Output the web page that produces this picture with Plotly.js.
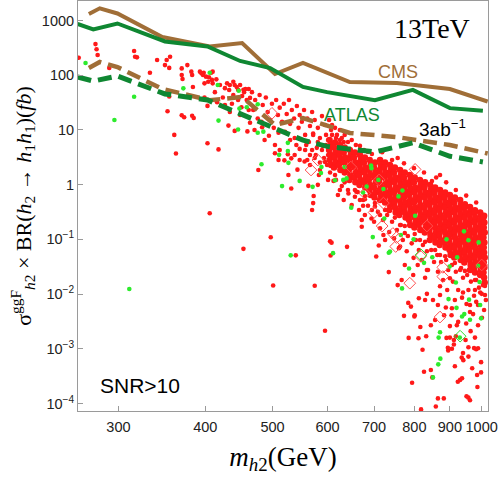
<!DOCTYPE html>
<html>
<head>
<meta charset="utf-8">
<script src="https://cdn.plot.ly/plotly-3.0.1.min.js"></script>
<style>html,body{margin:0;padding:0;background:#fff}</style>
</head>
<body>
<div id="plot" style="width:498px;height:486px"></div>
<script>
// limit curves: mass (GeV) and sigma x BR (fb)
const cmsMass = [272, 282, 299, 347, 406, 452, 504, 553, 646, 755, 900, 1020];
const cmsObs = [1315, 1671, 1343, 499, 335, 388, 105, 167, 75, 72, 56, 33];
const cmsProj = [135, 174, 141, 56, 35, 40, 12.3, 16.5, 8.8, 7.4, 5.3, 3.7];
const atlasMass = [262, 276, 299, 350, 403, 449, 496, 553, 599, 702, 796, 900, 1004];
const atlasObs = [863, 685, 881, 413, 335, 182, 135, 61, 49, 35, 54, 25, 22.5];
const atlasProj = [92.7, 78, 96.7, 45.4, 35.2, 19.5, 11.8, 6.5, 5.0, 3.95, 5.8, 3.3, 2.6];

// scan points [mass, sigma]
const redSparse = [
[263,208],[278,370],[279,298],[280,234],[291,136],[316,277],[317,217],[319,212],[333,111],[341,189],[350,153],[352,189],[356,217],[355,136],[370,133],[377,153],[371,85],[370,101],[382,116],[383,101],[384,61],[393,116],[395,108],[397,101],[398,111],[401,94],[404,76],[399,71],[405,92],[409,82],[408,111],[410,116],[415,84],[410,71],[420,66],[427,58],[430,71],[434,66],[439,76],[441,66],[444,61],[446,54],[449,66],[454,54],[457,56],[462,56],
[353,22],[355,41],[370,18.5],[373,17],[361,8.1],[363,3.7],[403,5.7],[418,4.4],[406,0.30],[454,0.067],[383,18.1],[385,16.5],[432,12],[460,9.4],[464,13.5],[497,0.109],[501,0.0143],[540,0.051],[477,1.85],[527,1.5],[532,0.85],[543,1.88],[504,3.75],[510,2.82],[520,2.78],[532,3.02],[526,3.6],[547,4.5],[541,5.3],[556,2.64],[561,2.82],[483,11.2],[494,7.8],[510,8.9],[403,27.5],[437,30],[451,26],[441,9.6],
[575,0.0142],[595,0.00213],[606,0.0508],[605,0.092],[640,0.073],[705,0.0485],[711,0.077],[735,0.0252],[757,0.0146],[773,0.004],[785,0.00158],[791,0.0059],[800,0.0039],[816,0.0025],[822,0.00096],[826,0.00038],[818,0.000078],[845,0.00041],[849,0.0003],[865,0.000124],[859,0.000088],[882,0.000124],[900,0.0026],[895,0.00093],[912,0.00145],[941,0.00062],[931,0.00027],[957,0.000128],[962,0.000115],[969,0.00044],[975,0.00103],[988,0.00102],[985,0.000332],[986,0.0002],[998,0.00037],[998,0.00057],[957,0.00072],[794,0.00024],[915,0.00048],[924,0.00025],[937,0.00029],[951,0.000135],[982,0.00098],[936,0.00069],[811,0.00156],[832,0.0017],[890,0.00158],[912,0.0012],[900,0.0016],[918,0.0017],[940,0.00084],[957,0.00107],
[608,0.087],[570,0.344],[572,0.46],[573,0.62],[563,0.95],[612,1.17],[643,0.69],[660,0.74],[679,0.54],[675,0.41],[702,0.4],[694,0.24],[672,0.17],[722,0.12],[763,0.074],[848,1.16],
[767,0.0181],[784,0.0069],[801,0.0041],[812,0.0084],[834,0.0101],[851,0.0078],[857,0.00336],[845,0.0027],[888,0.0057],[905,0.0041],[921,0.0027],[950,0.0029],[964,0.0021],[978,0.0016],[948,0.00145],[894,0.00104],[906,0.001],[988,0.0027],[972,0.0043],[951,0.0066],[1000,0.0101],[982,0.0072],[871,0.0139],[900,0.0194],[834,0.0275],[797,0.0223],[775,0.0339],
[829,0.0078],[865,0.0063],[906,0.0055],[940,0.0107],[962,0.0047],[1001,0.0037],[883,0.0041],[925,0.0031],[978,0.0119],[1014,0.0078]
];
const redTail = [
[467,49],[472,35.2],[469,23.1],[476,16.2],[479,43.5],[484,28.5],[482,14.1],[489,39],[492,21.2],[496,15.2],[499,30],[502,10.9],[506,35.2],[509,18.7],[512,25.5],[516,14.1],[519,30],[521,9.2],[524,19.5],[528,35.2],[530,12.9],[533,23.1],[537,16.2],[538,7.1],[542,27.3],[545,10.9],[547,18.7],[551,14.1],[555,23.1],[557,8.1],[561,16.2],[564,6.0],[566,11.8],[570,21.2],[572,8.6],[575,15.2],[579,4.7],[581,10.9],[585,7.1],[589,17.9],[591,5.1],[595,12.3],[597,8.1],[601,3.48],[603,15.2],[607,9.97],[609,12.3],[615,10.9],[619,8.1],[625,9.97],[629,7.1],[635,8.1],[642,6.0],[650,6.55],[659,5.3],[668,5.1],[677,4.3],[686,3.95],[695,3.63],
[471,9.97],[487,6.55],[504,5.3],[512,4.3],[530,6.55],[538,3.48],[547,2.82],[557,4.3],[566,2.29],[575,3.07],[585,1.85],[595,2.6],[601,1.22],[581,0.99],
[413,49],[424,39],[433,53.7],[439,43.5],[446,35.2],[452,41.7],[459,35.2],[462,23.1],[427,28.5],[449,18.7],[434,21.2],[416,32],[455,49],[464,38.5],[399,39],
[589,4.3],[597,5.3],[593,3.07],[601,6.55],[599,2.29],[585,2.54],[581,6.0],[577,3.48],[570,4.3],[609,8.1],[617,7.1],[625,6.55],[633,6.0],[605,1.67],[611,2.06],[583,1.5],[566,3.48],[559,5.3],[572,8.1]
];
const redBelow = [
[617,1.22],[629,0.94],[621,0.648],[633,0.525],[642,0.8],[657,0.6],[650,0.425],[663,0.73],[666,0.344],[675,0.525],[686,0.41],[679,0.279],[695,0.344],[700,0.21],[672,0.226],[709,0.318],[721,0.226],[714,0.16],[731,0.279],[736,0.136],[726,0.0973],[743,0.21],[755,0.148],[748,0.104],[765,0.183],[770,0.0973],[760,0.069],[775,0.131],[783,0.115],[793,0.0845],[780,0.0605],[804,0.0973],[812,0.0638],[798,0.0459],[809,0.0339],[823,0.0788],[834,0.0605],[820,0.0419],[846,0.0638],[854,0.0385],[837,0.0275],[829,0.0199],[863,0.0517],[874,0.0385],[865,0.0255],[889,0.0419],[895,0.0275],[880,0.0181],[892,0.0119],[871,0.0096],[906,0.0339],[918,0.0255],[909,0.0169],[934,0.0298],[940,0.0199],[925,0.0119],[937,0.0086],[915,0.0078],[953,0.0223],[965,0.0169],[957,0.0119],[982,0.0181],[991,0.0131],[975,0.0093],[1004,0.0146],[1011,0.0096],[988,0.0063],[962,0.0063],[1008,0.0051],
[615,1.5],[635,1.1],[657,0.8],[679,0.62],[702,0.46],[726,0.344],[750,0.25],[775,0.175],[801,0.125],[829,0.09],[857,0.0638],[886,0.049],[915,0.037],[946,0.0265],[978,0.0181],[1011,0.014],
[625,0.8],[668,0.525],[714,0.279],[763,0.183],[815,0.0973],[871,0.0517],[931,0.0275],[995,0.0107],
[719,3.9],[743,2.82],[773,2.45],[799,2.0],[826,1.67],[860,1.35],[889,1.1],[918,0.8],[950,0.63],[982,0.47],[757,3.07],[871,1.5]
];
const redCore = [
[604,6.55],[607,5.3],[603,4.3],[606,3.48],[604,2.82],[607,2.29],
[615,5.9],[613,4.77],[616,3.87],[614,3.13],[616,2.54],[613,2.06],
[625,5.3],[627,4.3],[624,3.48],[626,2.82],[623,2.29],[626,1.85],
[635,4.77],[633,3.87],[636,3.13],[634,2.54],[637,2.06],[635,1.67],
[646,4.3],[648,3.48],[645,2.82],[647,2.29],[644,1.85],[647,1.5],[645,1.22],
[657,3.87],[655,3.13],[658,2.54],[656,2.06],[659,1.67],[656,1.35],[658,1.1],
[668,3.48],[670,2.82],[667,2.29],[669,1.85],[666,1.5],[669,1.22],[667,0.986],
[679,3.13],[677,2.54],[680,2.06],[678,1.67],[681,1.35],[678,1.1],[680,0.887],
[690,2.82],[692,2.29],[689,1.85],[691,1.5],[688,1.22],[691,0.986],[689,0.799],[692,0.648],
[702,2.54],[700,2.06],[703,1.67],[701,1.35],[704,1.1],[700,0.887],[703,0.719],[701,0.583],
[714,2.82],[716,2.29],[713,1.85],[715,1.5],[712,1.22],[715,0.986],[713,0.799],[716,0.648],[714,0.525],
[726,2.54],[724,2.06],[727,1.67],[725,1.35],[728,1.1],[724,0.887],[727,0.719],[725,0.583],[726,0.473],
[738,2.29],[740,1.85],[737,1.5],[739,1.22],[736,0.986],[739,0.799],[737,0.648],[740,0.525],[738,0.425],[736,0.344],
[750,2.06],[748,1.67],[751,1.35],[749,1.1],[752,0.887],[748,0.719],[751,0.583],[749,0.473],[750,0.383],[752,0.31],
[763,1.85],[765,1.5],[762,1.22],[764,0.986],[761,0.799],[764,0.648],[762,0.525],[765,0.425],[763,0.344],[761,0.279],
[775,1.67],[773,1.35],[776,1.1],[774,0.887],[777,0.719],[773,0.583],[776,0.473],[774,0.383],[775,0.31],[777,0.251],
[788,1.5],[790,1.22],[787,0.986],[789,0.799],[786,0.648],[789,0.525],[787,0.425],[790,0.344],[788,0.279],[786,0.226],[789,0.183],
[801,1.35],[799,1.1],[802,0.887],[800,0.719],[803,0.583],[799,0.473],[802,0.383],[800,0.31],[801,0.251],[803,0.203],[800,0.165],
[815,1.22],[817,0.986],[814,0.799],[816,0.648],[813,0.525],[816,0.425],[814,0.344],[817,0.279],[815,0.226],[813,0.183],[816,0.148],
[829,1.1],[827,0.887],[830,0.719],[828,0.583],[831,0.473],[827,0.383],[830,0.31],[828,0.251],[829,0.203],[831,0.165],[828,0.133],
[843,0.986],[845,0.799],[842,0.648],[844,0.525],[841,0.425],[844,0.344],[842,0.279],[845,0.226],[843,0.183],[841,0.148],[844,0.12],[842,0.0973],
[857,0.887],[855,0.719],[858,0.583],[856,0.473],[859,0.383],[855,0.31],[858,0.251],[856,0.203],[857,0.165],[859,0.133],[856,0.108],[858,0.0876],
[871,0.799],[873,0.648],[870,0.525],[872,0.425],[869,0.344],[872,0.279],[870,0.226],[873,0.183],[871,0.148],[869,0.12],[872,0.0973],[870,0.0788],
[886,0.719],[884,0.583],[887,0.473],[885,0.383],[888,0.31],[884,0.251],[887,0.203],[885,0.165],[886,0.133],[888,0.108],[885,0.0876],[887,0.0709],
[900,0.648],[902,0.525],[899,0.425],[901,0.344],[898,0.279],[901,0.226],[899,0.183],[902,0.148],[900,0.12],[898,0.0973],[901,0.0788],[899,0.0638],[902,0.0517],
[915,0.583],[913,0.473],[916,0.383],[914,0.31],[917,0.251],[913,0.203],[916,0.165],[914,0.133],[915,0.108],[917,0.0876],[914,0.0709],[916,0.0574],[913,0.0465],
[931,0.525],[933,0.425],[930,0.344],[932,0.279],[929,0.226],[932,0.183],[930,0.148],[933,0.12],[931,0.0973],[929,0.0788],[932,0.0638],[930,0.0517],[933,0.0419],
[946,0.44],[944,0.383],[947,0.31],[945,0.251],[948,0.203],[944,0.165],[947,0.133],[945,0.108],[946,0.0876],[948,0.0709],[945,0.0574],[947,0.0465],[944,0.0377],
[962,0.39],[964,0.344],[961,0.279],[963,0.226],[960,0.183],[963,0.148],[961,0.12],[964,0.0973],[962,0.0788],[960,0.0638],[963,0.0517],[961,0.0419],[964,0.0339],[962,0.0275],
[978,0.34],[976,0.31],[979,0.251],[977,0.203],[980,0.165],[976,0.133],[979,0.108],[977,0.0876],[978,0.0709],[980,0.0574],[977,0.0465],[979,0.0377],[976,0.0305],[978,0.0248],
[995,0.31],[997,0.279],[994,0.226],[996,0.183],[993,0.148],[996,0.12],[994,0.0973],[997,0.0788],[995,0.0638],[993,0.0517],[996,0.0419],[994,0.0339],[997,0.0275],[995,0.0223],
[1008,0.27],[1006,0.251],[1009,0.203],[1007,0.165],[1010,0.133],[1006,0.108],[1009,0.0876],[1007,0.0709],[1008,0.0574],[1010,0.0465],[1007,0.0377],[1009,0.0305],[1006,0.0248],[1008,0.0201],[1010,0.0163]
];
const greenPts = [
[269,167],[316,40.5],[296,15.2],[372,57.5],[406,111],[417,66],[418,14.8],[447,52],[448,24.5],[446,10.2],[459,26],[311,0.0124],[476,8.9],[485,9.3],[482,2.36],[516,0.94],[531,0.051],[526,4.1],[526,5.8],[476,29.5],
[611,0.056],[735,0.057],[768,0.0127],[786,0.0294],[826,0.0372],[871,0.00201],[867,0.0016],[872,0.00066],[866,0.00052],[851,0.0003],[896,0.0081],[930,0.0016],[937,0.0039],[962,0.0034],[995,0.0063],[998,0.0036],[849,0.047],[920,0.0056],[944,0.0043],[993,0.0166],[918,0.0163],[899,0.0318],
[571,0.91],[587,1.63],[588,2.1],[615,1.2],[632,1.22],[649,0.38],[697,0.11],[710,1.22],[722,0.83],[738,0.06],[765,0.12],[769,0.78],[802,0.27],[798,0.1],[890,0.1],[922,0.047],[943,0.14],[957,0.096],[990,0.088],[675,0.72],[724,0.24],
[511,3.5],[527,2.5],[547,1.17],[693,2.23],[635,2.1],[694,2.0],[639,1.3],[683,0.92],[759,0.61],[988,0.033],[959,0.0079]
];
const redDiamonds = [
[499,20.1],[568,1.85],[581,2.82],[802,1.9],[679,0.69],[722,0.46],[752,0.074],[745,0.128],[648,2.1],[712,1.22],[700,0.31],[719,0.175],[754,0.108],[879,0.0308],[1000,0.034],[834,0.175],[817,0.049],[788,0.0158],[879,0.0209],[871,0.0038]
];
const greenDiamonds = [[818,0.052],[931,0.0017]];

const xTicks = [300, 400, 500, 600, 700, 800, 900, 1000];
const yTicks = [1e-4, 1e-3, 1e-2, 1e-1, 1, 10, 100, 1000];
const yTickText = ['10<sup>−4</sup>', '10<sup>−3</sup>', '10<sup>−2</sup>', '10<sup>−1</sup>', '1', '10', '100', '1000'];

const brown = 'rgb(160,110,55)';
const dgreen = 'rgb(15,135,50)';
const redCol = 'rgb(255,25,25)';
const xs = a => a.map(p => p[0]);
const ys = a => a.map(p => p[1]);
const red = redSparse.concat(redTail, redBelow);

const traces = [
  {x: xs(redCore), y: ys(redCore), mode: 'markers', type: 'scatter',
   marker: {color: redCol, size: 6.5}},
  {x: xs(red), y: ys(red), mode: 'markers', type: 'scatter',
   marker: {color: redCol, size: 4.6}},
  {x: xs(greenPts), y: ys(greenPts), mode: 'markers', type: 'scatter',
   marker: {color: 'rgb(45,235,45)', size: 4.6}},
  {x: xs(redDiamonds), y: ys(redDiamonds), mode: 'markers', type: 'scatter',
   marker: {symbol: 'diamond-open', color: 'rgb(255,80,80)', size: 9, line: {width: 1}}},
  {x: xs(greenDiamonds), y: ys(greenDiamonds), mode: 'markers', type: 'scatter',
   marker: {symbol: 'diamond-open', color: 'rgb(45,220,45)', size: 9, line: {width: 1}}},
  {x: cmsMass, y: cmsObs, mode: 'lines', type: 'scatter', line: {color: brown, width: 4}},
  {x: atlasMass, y: atlasObs, mode: 'lines', type: 'scatter', line: {color: dgreen, width: 4}},
  {x: cmsMass, y: cmsProj, mode: 'lines', type: 'scatter', line: {color: brown, width: 4.5, dash: '14px,7px'}},
  {x: atlasMass, y: atlasProj, mode: 'lines', type: 'scatter', line: {color: dgreen, width: 5, dash: '14px,7px'}}
];

const axisBase = {
  showgrid: false, zeroline: false, showline: true, mirror: true,
  linecolor: '#9a9a9a', linewidth: 1, ticks: 'inside', ticklen: 5,
  tickcolor: '#9a9a9a', tickfont: {family: 'Liberation Sans, Arial, sans-serif', size: 14.5, color: '#222'}
};

const sans = 'Liberation Sans, Arial, sans-serif';
const serif = 'Liberation Serif, Times New Roman, serif';
function label(text, x, y, size, color, family) {
  return {text: text, xref: 'paper', yref: 'paper', x: x, y: y, xanchor: 'center', yanchor: 'middle',
          showarrow: false, font: {family: family || sans, size: size, color: color}};
}

const layout = {
  width: 498, height: 486,
  margin: {l: 78, r: 10, t: 1, b: 75},
  paper_bgcolor: '#fff', plot_bgcolor: '#fff',
  showlegend: false,
  xaxis: Object.assign({}, axisBase, {
    type: 'log', range: [2.4189, 3.0091],
    tickvals: xTicks, ticktext: xTicks.map(String), ticklabelstandoff: 3,
    title: {text: '<i>m</i><sub><i>h</i>2</sub>(GeV)', standoff: 12,
            font: {family: serif, size: 27, color: '#000'}}
  }),
  yaxis: Object.assign({}, axisBase, {
    type: 'log', range: [-4.137, 3.356],
    tickvals: yTicks, ticktext: yTickText,
    title: {text: 'σ<sup>ggF</sup><sub><i>h</i>2</sub> × BR(<i>h</i><sub>2</sub> → <i>h</i><sub>1</sub><i>h</i><sub>1</sub>)(<i>fb</i>)', standoff: 4,
            font: {family: serif, size: 22, color: '#000'}}
  }),
  annotations: [
    label('13TeV', 0.863, 0.934, 28, '#000', serif),
    label('CMS', 0.780, 0.827, 18, brown),
    label('ATLAS', 0.668, 0.722, 18, dgreen),
    label('3ab<sup>−1</sup>', 0.890, 0.690, 19, '#000'),
    label('SNR>10', 0.151, 0.063, 21, '#000')
  ]
};

Plotly.newPlot('plot', traces, layout, {staticPlot: true, displayModeBar: false});
</script>
</body>
</html>
